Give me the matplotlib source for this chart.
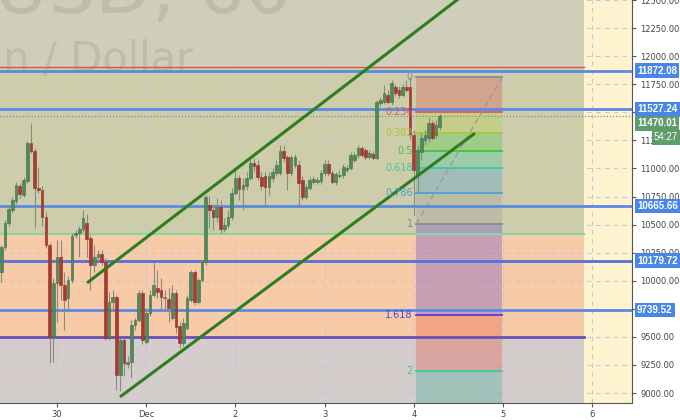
import numpy as np
import matplotlib
matplotlib.use('Agg')
import matplotlib.pyplot as plt
import matplotlib.transforms as mtransforms

## DATA

# hourly candles, first one at Nov 29 09:00 (t in days, Nov 30 00:00 = 0)
t_first = -15 / 24
opens = [10077, 10300, 10513, 10629, 10709, 10843, 10763, 10887, 11225, 11154,
         10825, 10807, 10567, 10318, 9499, 9979, 10211, 9962, 9846, 10006,
         10407, 10424, 10460, 10513, 10380, 10140, 10211, 10237, 10166, 9490,
         9810, 9855, 9160, 9472, 9258, 9276, 9606, 9650, 9890, 9454,
         9712, 9873, 9935, 9917, 9846, 9837, 9668, 9890, 9597, 9445,
         9579, 9828, 10077, 9810, 10006, 10166, 10674, 10629, 10567, 10656,
         10460, 10496, 10567, 10780, 10914, 10816, 10843, 10914, 11047, 11030,
         10923, 10932, 10834, 10914, 10958, 10958, 11154, 11101, 10958, 11030,
         11030, 10896, 10745, 10825, 10878, 10878, 10887, 10958, 11038, 10958,
         10878, 10932, 10941, 10985, 11003, 11074, 11118, 11181, 11163, 11101,
         11127, 11092, 11581, 11590, 11653, 11590, 11724, 11697, 11653, 11724,
         11724, 11296, 10941, 11145, 11252, 11270, 11403, 11296, 11368]
highs = [10318, 10540, 10674, 10745, 10878, 10869, 10923, 11243, 11403, 11181,
         11012, 10843, 10611, 10335, 10024, 10362, 10362, 10077, 10042, 10424,
         10451, 10487, 10629, 10593, 10407, 10318, 10273, 10273, 10202, 9899,
         9917, 9873, 9490, 9490, 9330, 9650, 9668, 9917, 9917, 9757,
         9917, 10166, 10095, 10024, 9917, 9935, 9962, 9917, 9632, 9668,
         9873, 10095, 10095, 10024, 10184, 10763, 10754, 10682, 10736, 10718,
         10558, 10629, 10825, 11003, 10941, 10914, 10967, 11092, 11092, 11074,
         10967, 10967, 10967, 11003, 11074, 11208, 11208, 11118, 11118, 11127,
         11074, 10932, 10860, 10923, 10932, 10923, 10985, 11074, 11074, 10985,
         10967, 10985, 11038, 11030, 11145, 11145, 11208, 11199, 11181, 11163,
         11154, 11608, 11635, 11742, 11697, 11786, 11750, 11733, 11750, 11786,
         11813, 11341, 11208, 11314, 11341, 11448, 11430, 11430, 11483]
lows = [9988, 10273, 10487, 10611, 10682, 10736, 10745, 10869, 11136, 10469,
        10780, 10487, 10291, 9267, 9276, 9632, 9828, 9561, 9721, 9979,
        10380, 10211, 10433, 10211, 9917, 10077, 10166, 10140, 9472, 9472,
        9739, 9027, 9018, 9152, 9223, 9134, 9561, 9632, 9436, 9436,
        9686, 9855, 9846, 9739, 9739, 9632, 9650, 9534, 9401, 9419,
        9561, 9810, 9784, 9792, 9988, 10140, 10469, 10451, 10522, 10424,
        10433, 10469, 10540, 10763, 10718, 10629, 10807, 10896, 10967, 10896,
        10807, 10656, 10763, 10878, 10932, 10941, 11056, 10807, 10932, 11003,
        10674, 10718, 10727, 10807, 10860, 10860, 10860, 10932, 10932, 10860,
        10852, 10914, 10914, 10967, 10985, 11056, 11092, 11101, 11074, 11083,
        11074, 11074, 11555, 11572, 11572, 11564, 11644, 11626, 11635, 11679,
        11252, 10585, 10789, 11074, 11208, 11234, 11252, 11270, 11341]
closes = [10300, 10513, 10638, 10718, 10852, 10771, 10896, 11225, 11154, 10825,
          10807, 10567, 10318, 9499, 9979, 10211, 9962, 9828, 10006, 10398,
          10424, 10460, 10558, 10371, 10140, 10211, 10237, 10166, 9490, 9810,
          9855, 9160, 9472, 9267, 9276, 9606, 9650, 9890, 9472, 9712,
          9873, 9962, 9899, 9855, 9855, 9757, 9890, 9588, 9445, 9623,
          9846, 10077, 9810, 10006, 10166, 10745, 10629, 10567, 10656, 10460,
          10496, 10567, 10780, 10914, 10816, 10852, 10914, 11047, 11021, 10923,
          10843, 10834, 10932, 10967, 11030, 11154, 11092, 10958, 11101, 11101,
          10869, 10745, 10834, 10896, 10905, 10896, 10958, 11038, 10958, 10878,
          10949, 10941, 11012, 11003, 11118, 11118, 11181, 11118, 11101, 11136,
          11092, 11590, 11608, 11670, 11590, 11759, 11670, 11653, 11724, 11697,
          11296, 10985, 11163, 11270, 11296, 11403, 11270, 11386, 11470.01]

# horizontal levels
blue_levels = [11872.08, 11527.24, 10665.66, 10179.72, 9739.52]
blue_labels = ['11872.08', '11527.24', '10665.66', '10179.72', '9739.52']
red_level = 11905
green_level = 10418
purple_level = 9497
last_price = 11470.01
countdown = '54:27'

# zones (top, bottom)
zone_bounds = [12600, 11905, 10418, 9497, 8800]
zone_end = 5.908

# fibonacci retracement
fib_high = 11810
fib_low = 10504
fib_t = [4.025, 4.99]
fib_levels = [0, 0.236, 0.382, 0.5, 0.618, 0.786, 1, 1.618, 2]
fib_names = ['0', '0.236', '0.382', '0.5', '0.618', '0.786', '1', '1.618', '2']

# channel lines (t, price)
upper_t = [0.336, 4.55]
upper_p = [9980, 12540]
lower_t = [0.706, 4.686]
lower_p = [8965, 11314]

day_ticks = [0, 1, 2, 3, 4, 5, 6]
day_labels = ['30', 'Dec', '2', '3', '4', '5', '6']
price_ticks = np.arange(9000, 12501, 250)

## PLOT

fig = plt.figure(figsize=(6.8, 4.2), dpi=100)
fig.patch.set_facecolor('white')
ax = fig.add_axes([0, 17 / 420, 632 / 680, 403 / 420])
ax.set_facecolor('#fff3cf')
ax.set_xlim(-0.639, 6.446)
ax.set_ylim(8911, 12498)

# zones
zone_colors = ['#cfcfb9', '#cdcdaa', '#f7cba8', '#d5cccc']
for i, c in enumerate(zone_colors):
    ax.fill_between([-1, zone_end], zone_bounds[i + 1], zone_bounds[i], color=c, lw=0, zorder=0.1)

# grid
ax.set_axisbelow(True)
ax.set_xticks(day_ticks)
ax.set_xticklabels(day_labels)
ax.set_yticks(price_ticks)
ax.set_yticklabels(['%.2f' % v for v in price_ticks])
ax.grid(True, color='#c3c6d6', lw=0.8, ls=(0, (4, 4)))

# watermark
ax.text(292 / 632, 1 - 13 / 403, 'BTCUSD, 60', transform=ax.transAxes, ha='right', va='baseline',
        fontsize=53, color='#8a8a7a', alpha=0.25, zorder=0.6)
ax.text(193 / 632, 1 - 72 / 403, 'Bitcoin / Dollar', transform=ax.transAxes, ha='right', va='baseline',
        fontsize=30, color='#8a8a7a', alpha=0.25, zorder=0.6)

# zone lines
ax.plot([-1, zone_end], [red_level, red_level], color='#d9534f', lw=1, zorder=2)
ax.plot([-1, zone_end], [green_level, green_level], color='#86d6a4', lw=1.5, zorder=2)
ax.plot([-1, zone_end], [purple_level, purple_level], color='#6a4fb8', lw=2, zorder=2)

# fib fills and lines
rng = fib_high - fib_low
fib_prices = [fib_high - l * rng for l in fib_levels]
band_colors = ['#e04848', '#b5d33a', '#3ccc3c', '#2fc7a0', '#3c9ad8', '#9a9a9a', '#5a3ed0', '#e64a3a', '#2fa890']
line_colors = ['#8a8a8a', '#e05a5a', '#a8c83c', '#43c443', '#3cc9a0', '#4aa0d8', '#8a8a8a', '#5a3ed0', '#3cc99b']
band_edges = fib_prices + [fib_high - 2.618 * rng]
for i in range(len(band_colors)):
    ax.fill_between(fib_t, band_edges[i + 1], band_edges[i], color=band_colors[i], alpha=0.3, lw=0, zorder=1.5)
for p, c, n in zip(fib_prices, line_colors, fib_names):
    ax.plot(fib_t, [p, p], color=c, lw=1.3, zorder=2)
    ax.text(fib_t[0] - 0.035, p, n, color=c, fontsize=7, ha='right', va='center', zorder=4)
ax.plot(fib_t, [fib_low, fib_high], color='#9a9a9a', lw=1, ls=(0, (4, 3)), zorder=2)

# blue lines
for v in blue_levels:
    c = '#5570d8' if v == 10179.72 else '#5a8ae6'
    ax.axhline(v, color=c, lw=2, zorder=2.5)
ax.axhline(last_price, color='#6aa070', lw=0.9, ls=(0, (1, 1.5)), zorder=2.5)

# candles
t = t_first + np.arange(len(opens)) / 24
o = np.array(opens)
c = np.array(closes)
up = c >= o
ax.vlines(t, lows, highs, color='#8a8a80', lw=0.8, zorder=3)
ax.bar(t[up], c[up] - o[up], bottom=o[up], width=0.03, color='#4f8a5b', edgecolor='#3e6e48', lw=0.4, zorder=3.2)
ax.bar(t[~up], c[~up] - o[~up], bottom=o[~up], width=0.03, color='#a83a30', edgecolor='#8c2f28', lw=0.4, zorder=3.2)

# channel
ax.plot(upper_t, upper_p, color='#2e7d1e', lw=2.2, solid_capstyle='butt', zorder=3.5)
ax.plot(lower_t, lower_p, color='#2e7d1e', lw=2.2, solid_capstyle='butt', zorder=3.5)

# axes styling
for s in ['top', 'left']:
    ax.spines[s].set_visible(False)
ax.spines['right'].set_color('#555555')
ax.spines['bottom'].set_color('#555555')
ax.yaxis.tick_right()
ax.tick_params(axis='y', length=3, pad=3, labelsize=6, colors='#555555', labelcolor='#444444')
ax.tick_params(axis='x', length=3, pad=2, labelsize=6, colors='#555555', labelcolor='#444444')

# price labels on axis (last price label pushed down below the 11527 one, as on the chart)
trans = mtransforms.blended_transform_factory(ax.transAxes, ax.transData)
lab_font = dict(family='Liberation Sans', fontsize=7, color='white', fontweight='bold')
for v, lab in zip(blue_levels, blue_labels):
    ax.text(1.0 + 5 / 632, v, lab, transform=trans, ha='left', va='center', clip_on=False, zorder=6,
            bbox=dict(boxstyle='square,pad=0.25', fc='#4a86e8', ec='none'), **lab_font)
ax.text(1.0 + 5 / 632, 11403, '%.2f' % last_price, transform=trans, ha='left', va='center',
        clip_on=False, zorder=6, bbox=dict(boxstyle='square,pad=0.25', fc='#5e9c6c', ec='none'), **lab_font)
ax.text(1.0 + 22 / 632, 11279, countdown, transform=trans, ha='left', va='center',
        family='Liberation Sans', fontsize=7, color='white', clip_on=False, zorder=6,
        bbox=dict(boxstyle='square,pad=0.25', fc='#5e9c6c', ec='none'))

fig.savefig('out.png', dpi=100)
